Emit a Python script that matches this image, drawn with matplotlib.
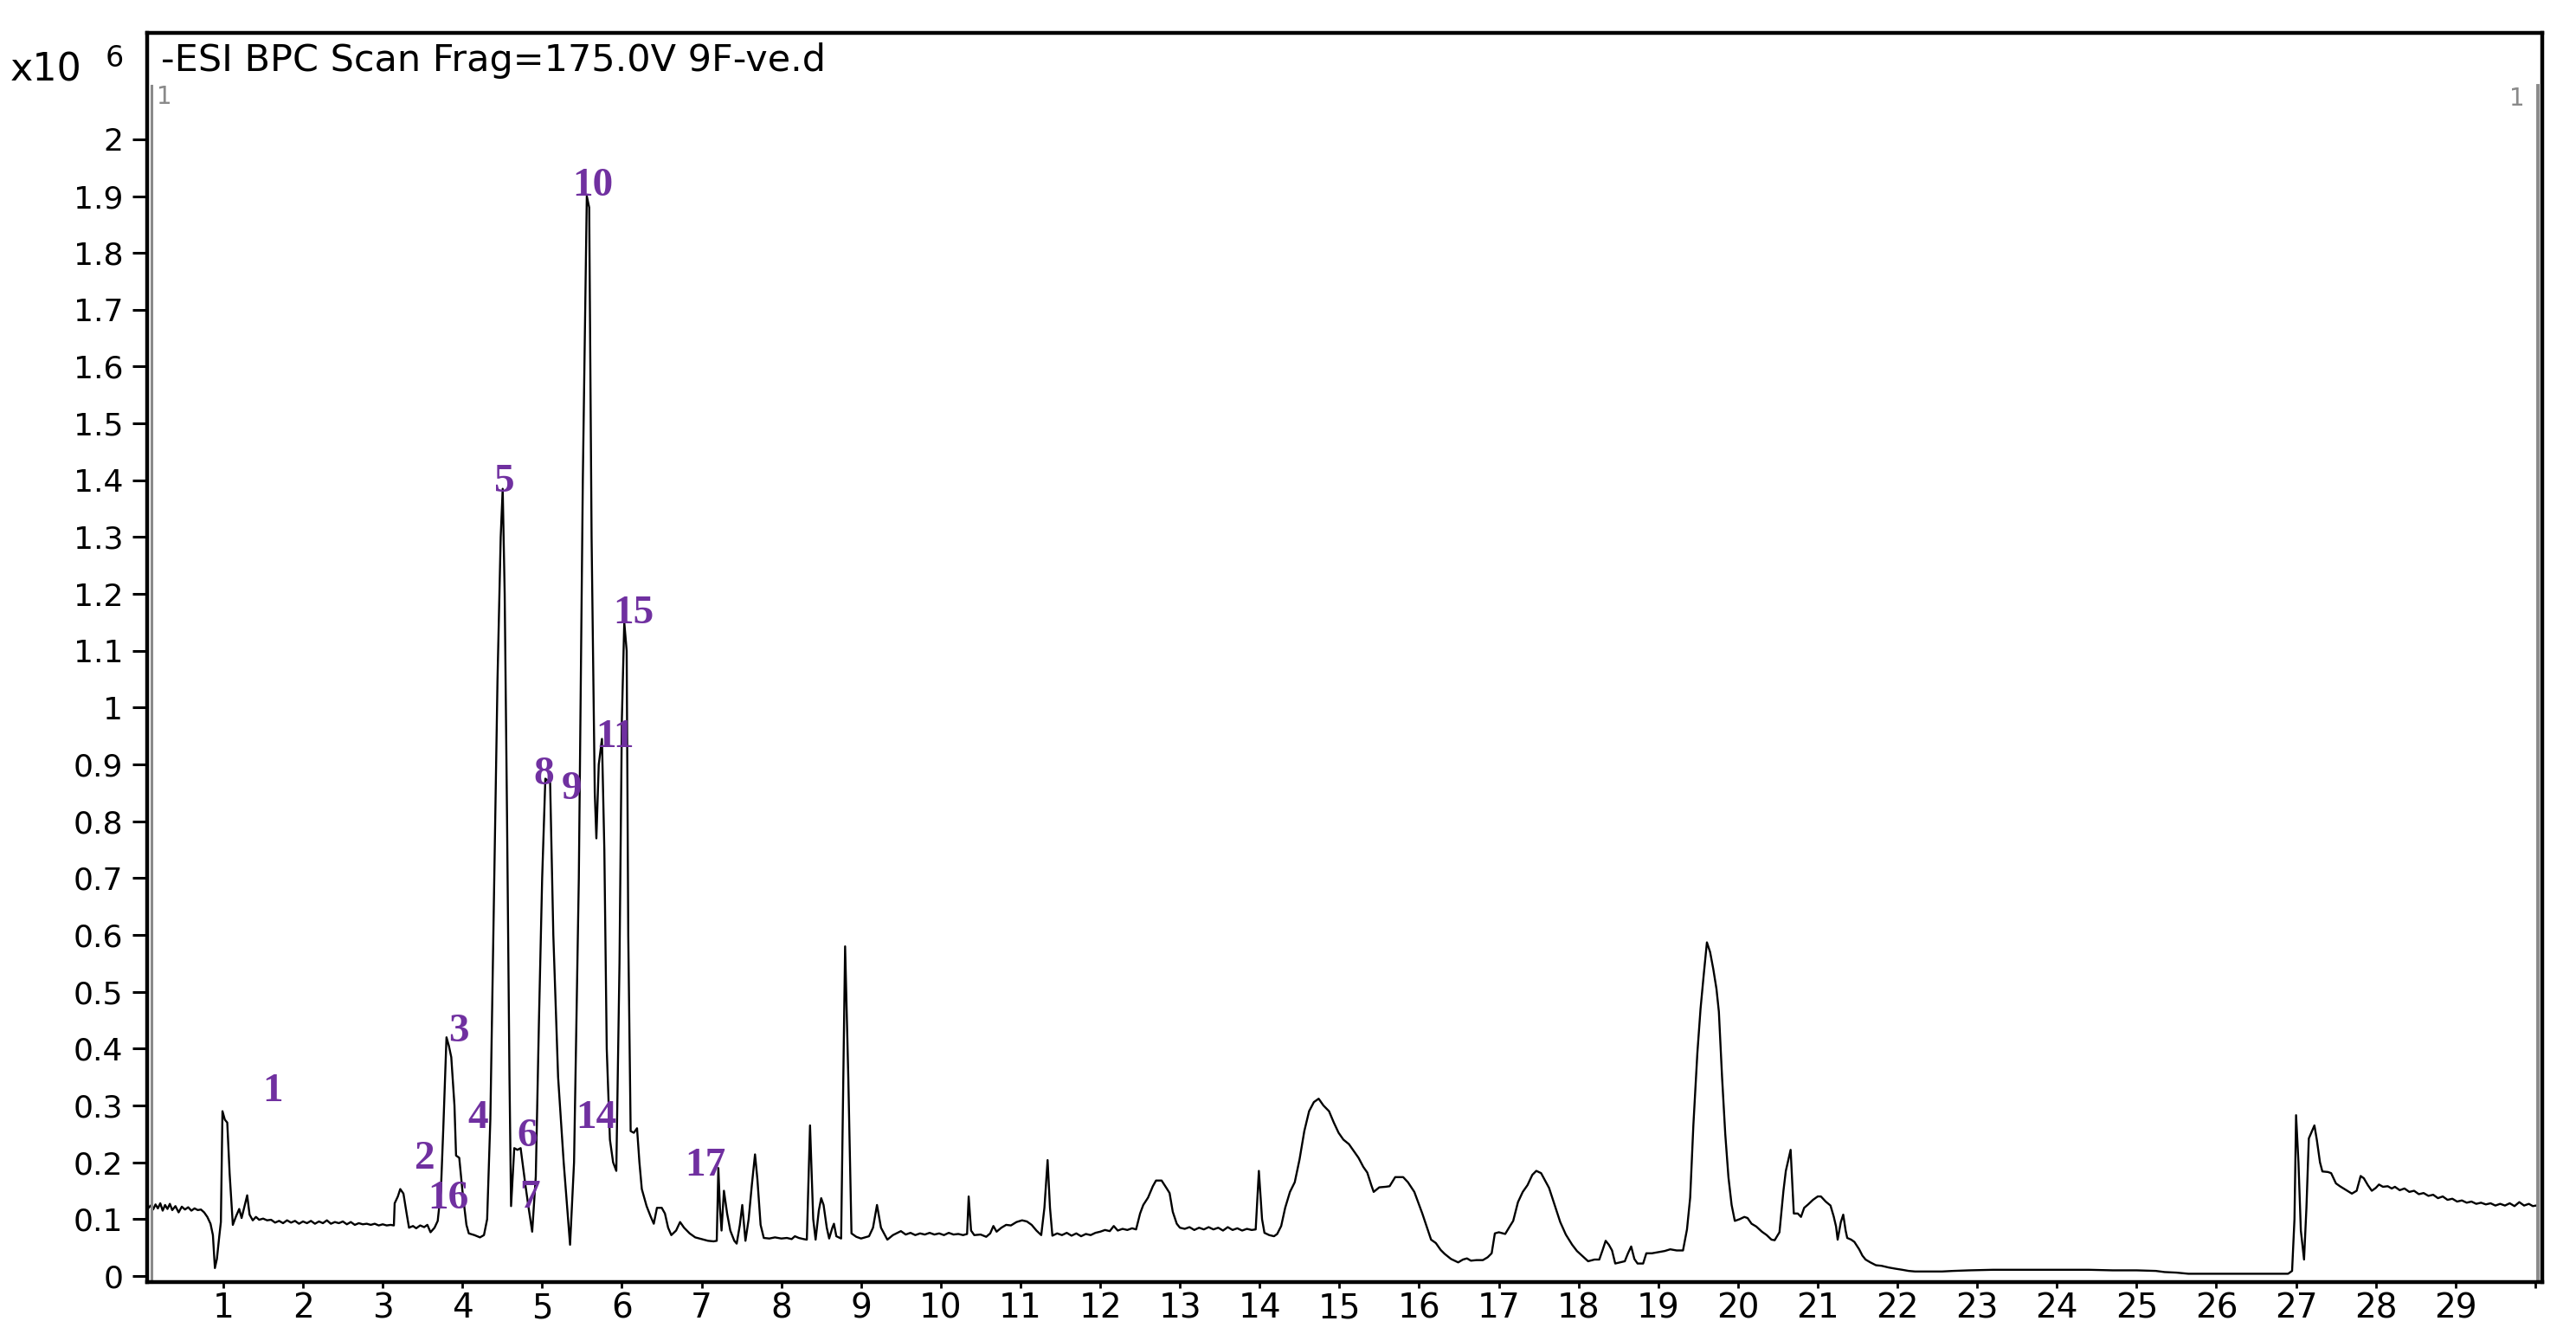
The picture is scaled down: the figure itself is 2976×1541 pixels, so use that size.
import matplotlib
matplotlib.use("Agg")
import matplotlib.pyplot as plt

# =========================
# BPC chromatogram (time in min, intensity in x10^6 counts)
rt = [
    0.05, 0.09, 0.12, 0.15, 0.18, 0.21, 0.24, 0.27, 0.30, 0.33,
    0.36, 0.40, 0.44, 0.48, 0.52, 0.56, 0.60, 0.64, 0.68, 0.72,
    0.76, 0.80, 0.84, 0.87, 0.895, 0.92, 0.95, 0.97, 0.99, 1.02,
    1.05, 1.08, 1.12, 1.16, 1.20, 1.23, 1.27, 1.30, 1.33, 1.37,
    1.41, 1.45, 1.50, 1.55, 1.60, 1.65, 1.70, 1.75, 1.80, 1.85,
    1.90, 1.95, 2.00, 2.05, 2.10, 2.15, 2.20, 2.25, 2.30, 2.35,
    2.40, 2.45, 2.50, 2.55, 2.60, 2.65, 2.70, 2.75, 2.80, 2.85,
    2.90, 2.95, 3.00, 3.05, 3.10, 3.14, 3.15, 3.19, 3.22, 3.26,
    3.30, 3.33, 3.38, 3.42, 3.47, 3.52, 3.56, 3.60, 3.65, 3.69,
    3.73, 3.76, 3.80, 3.83, 3.86, 3.90, 3.92, 3.96, 4.00, 4.05,
    4.08, 4.15, 4.22, 4.27, 4.31, 4.35, 4.40, 4.44, 4.48, 4.505,
    4.53, 4.56, 4.59, 4.61, 4.65, 4.69, 4.73, 4.79, 4.83, 4.875,
    4.92, 4.96, 5.00, 5.04, 5.10, 5.14, 5.20, 5.27, 5.35, 5.40,
    5.46, 5.51, 5.56, 5.59, 5.62, 5.66, 5.68, 5.71, 5.75, 5.78,
    5.81, 5.85, 5.89, 5.93, 5.97, 6.00, 6.03, 6.06, 6.08, 6.11,
    6.15, 6.19, 6.22, 6.25, 6.31, 6.36, 6.40, 6.44, 6.50, 6.54,
    6.58, 6.62, 6.68, 6.73, 6.78, 6.85, 6.92, 7.00, 7.08, 7.15,
    7.19, 7.21, 7.23, 7.25, 7.28, 7.32, 7.36, 7.41, 7.44, 7.48,
    7.51, 7.55, 7.59, 7.63, 7.67, 7.70, 7.74, 7.78, 7.85, 7.92,
    8.00, 8.07, 8.13, 8.17, 8.22, 8.28, 8.32, 8.36, 8.40, 8.43,
    8.47, 8.50, 8.53, 8.57, 8.60, 8.64, 8.66, 8.69, 8.75, 8.80,
    8.84, 8.88, 8.94, 9.00, 9.05, 9.10, 9.15, 9.20, 9.25, 9.33,
    9.40, 9.50, 9.56, 9.62, 9.68, 9.74, 9.80, 9.86, 9.92, 9.98,
    10.04, 10.10, 10.16, 10.22, 10.28, 10.33, 10.35, 10.38, 10.42, 10.50,
    10.57, 10.62, 10.66, 10.70, 10.76, 10.82, 10.88, 10.95, 11.02, 11.08,
    11.14, 11.20, 11.26, 11.30, 11.34, 11.37, 11.40, 11.46, 11.52, 11.58,
    11.64, 11.70, 11.76, 11.82, 11.88, 11.94, 12.00, 12.06, 12.12, 12.17,
    12.22, 12.28, 12.34, 12.40, 12.45, 12.50, 12.54, 12.60, 12.66, 12.70,
    12.77, 12.83, 12.87, 12.91, 12.96, 13.00, 13.06, 13.12, 13.18, 13.24,
    13.30, 13.36, 13.42, 13.48, 13.54, 13.60, 13.66, 13.72, 13.78, 13.84,
    13.90, 13.95, 13.99, 14.03, 14.06, 14.12, 14.18, 14.22, 14.27, 14.32,
    14.38, 14.44, 14.50, 14.56, 14.62, 14.68, 14.74, 14.80, 14.87, 14.93,
    14.99, 15.05, 15.12, 15.18, 15.24, 15.30, 15.35, 15.40, 15.43, 15.50,
    15.58, 15.63, 15.70, 15.80, 15.86, 15.94, 16.00, 16.04, 16.10, 16.15,
    16.21, 16.27, 16.32, 16.40, 16.49, 16.55, 16.60, 16.65, 16.72, 16.80,
    16.86, 16.91, 16.95, 17.00, 17.08, 17.14, 17.18, 17.24, 17.30, 17.36,
    17.42, 17.47, 17.53, 17.58, 17.63, 17.70, 17.77, 17.84, 17.92, 17.98,
    18.05, 18.12, 18.20, 18.26, 18.30, 18.34, 18.38, 18.42, 18.46, 18.52,
    18.58, 18.62, 18.66, 18.70, 18.74, 18.81, 18.85, 18.92, 19.00, 19.08,
    19.15, 19.23, 19.31, 19.36, 19.40, 19.44, 19.49, 19.53, 19.57, 19.61,
    19.65, 19.69, 19.73, 19.76, 19.80, 19.84, 19.88, 19.92, 19.96, 20.02,
    20.08, 20.12, 20.17, 20.23, 20.30, 20.36, 20.42, 20.46, 20.52, 20.57,
    20.60, 20.66, 20.70, 20.75, 20.79, 20.83, 20.88, 20.94, 21.00, 21.04,
    21.10, 21.16, 21.20, 21.23, 21.25, 21.29, 21.32, 21.35, 21.37, 21.42,
    21.46, 21.52, 21.56, 21.60, 21.66, 21.73, 21.80, 21.89, 21.97, 22.06,
    22.14, 22.22, 22.40, 22.56, 22.70, 22.90, 23.20, 23.50, 23.80, 24.10,
    24.40, 24.70, 25.00, 25.24, 25.35, 25.50, 25.65, 25.80, 26.00, 26.30,
    26.60, 26.90, 26.95, 26.98, 27.00, 27.03, 27.06, 27.10, 27.13, 27.16,
    27.23, 27.26, 27.30, 27.33, 27.40, 27.44, 27.50, 27.55, 27.62, 27.70,
    27.76, 27.81, 27.85, 27.90, 27.95, 28.00, 28.04, 28.09, 28.15, 28.20,
    28.24, 28.30, 28.36, 28.42, 28.48, 28.54, 28.60, 28.66, 28.72, 28.78,
    28.84, 28.90, 28.96, 29.02, 29.08, 29.14, 29.20, 29.26, 29.32, 29.38,
    29.44, 29.50, 29.56, 29.62, 29.68, 29.74, 29.80, 29.86, 29.92, 29.97,
    30.01,
]
bpc = [
    0.118, 0.124, 0.117, 0.126, 0.119, 0.128, 0.115, 0.125, 0.118, 0.127,
    0.116, 0.123, 0.112, 0.122, 0.117, 0.121, 0.115, 0.119, 0.116, 0.117,
    0.112, 0.104, 0.092, 0.072, 0.014, 0.030, 0.070, 0.095, 0.290, 0.275,
    0.270, 0.180, 0.090, 0.105, 0.118, 0.102, 0.125, 0.142, 0.108, 0.098,
    0.104, 0.099, 0.101, 0.098, 0.099, 0.094, 0.097, 0.093, 0.098, 0.094,
    0.097, 0.092, 0.096, 0.093, 0.097, 0.092, 0.096, 0.093, 0.098, 0.092,
    0.095, 0.093, 0.096, 0.091, 0.095, 0.090, 0.093, 0.091, 0.092, 0.090,
    0.092, 0.089, 0.091, 0.089, 0.090, 0.089, 0.128, 0.140, 0.153, 0.145,
    0.110, 0.085, 0.088, 0.084, 0.089, 0.086, 0.090, 0.077, 0.085, 0.097,
    0.150, 0.260, 0.420, 0.405, 0.385, 0.300, 0.212, 0.208, 0.150, 0.090,
    0.075, 0.072, 0.068, 0.072, 0.100, 0.275, 0.700, 1.050, 1.300, 1.385,
    1.200, 0.800, 0.350, 0.123, 0.225, 0.222, 0.225, 0.160, 0.120, 0.078,
    0.175, 0.450, 0.700, 0.875, 0.868, 0.600, 0.350, 0.200, 0.055, 0.200,
    0.700, 1.400, 1.900, 1.880, 1.300, 0.850, 0.770, 0.900, 0.945, 0.750,
    0.400, 0.240, 0.200, 0.185, 0.550, 0.980, 1.150, 1.100, 0.600, 0.255,
    0.252, 0.260, 0.200, 0.153, 0.123, 0.105, 0.092, 0.120, 0.120, 0.110,
    0.085, 0.072, 0.080, 0.095, 0.085, 0.075, 0.068, 0.065, 0.062, 0.061,
    0.062, 0.190, 0.120, 0.080, 0.150, 0.110, 0.080, 0.062, 0.057, 0.090,
    0.125, 0.062, 0.100, 0.160, 0.214, 0.170, 0.090, 0.067, 0.066, 0.068,
    0.066, 0.067, 0.065, 0.070, 0.067, 0.065, 0.064, 0.265, 0.100, 0.064,
    0.115, 0.137, 0.125, 0.085, 0.066, 0.085, 0.092, 0.070, 0.066, 0.580,
    0.350, 0.075, 0.069, 0.066, 0.068, 0.070, 0.085, 0.125, 0.085, 0.064,
    0.072, 0.079, 0.073, 0.076, 0.072, 0.075, 0.073, 0.076, 0.073, 0.075,
    0.072, 0.076, 0.073, 0.074, 0.072, 0.074, 0.140, 0.080, 0.072, 0.073,
    0.069, 0.075, 0.088, 0.078, 0.085, 0.090, 0.089, 0.095, 0.098, 0.096,
    0.090, 0.080, 0.072, 0.120, 0.204, 0.120, 0.071, 0.075, 0.072, 0.076,
    0.071, 0.075, 0.070, 0.074, 0.072, 0.076, 0.078, 0.081, 0.079, 0.088,
    0.080, 0.083, 0.081, 0.084, 0.082, 0.110, 0.125, 0.138, 0.158, 0.168,
    0.168, 0.155, 0.146, 0.113, 0.092, 0.085, 0.083, 0.086, 0.081, 0.085,
    0.082, 0.086, 0.082, 0.085, 0.080, 0.086, 0.081, 0.084, 0.080, 0.083,
    0.081, 0.082, 0.185, 0.100, 0.076, 0.072, 0.070, 0.074, 0.088, 0.120,
    0.148, 0.165, 0.205, 0.255, 0.290, 0.306, 0.312, 0.300, 0.290, 0.270,
    0.252, 0.240, 0.232, 0.220, 0.208, 0.192, 0.182, 0.160, 0.148, 0.156,
    0.157, 0.158, 0.174, 0.174, 0.165, 0.148, 0.125, 0.110, 0.085, 0.064,
    0.058, 0.046, 0.039, 0.030, 0.024, 0.029, 0.031, 0.027, 0.028, 0.028,
    0.033, 0.040, 0.075, 0.077, 0.074, 0.088, 0.097, 0.130, 0.148, 0.160,
    0.178, 0.185, 0.181, 0.168, 0.155, 0.125, 0.095, 0.073, 0.055, 0.044,
    0.035, 0.026, 0.029, 0.029, 0.045, 0.062, 0.055, 0.045, 0.022, 0.024,
    0.026, 0.040, 0.052, 0.030, 0.022, 0.022, 0.040, 0.040, 0.042, 0.044,
    0.047, 0.045, 0.045, 0.082, 0.138, 0.265, 0.392, 0.470, 0.530, 0.587,
    0.570, 0.540, 0.505, 0.465, 0.350, 0.250, 0.174, 0.125, 0.097, 0.100,
    0.104, 0.102, 0.092, 0.087, 0.078, 0.072, 0.064, 0.063, 0.077, 0.150,
    0.185, 0.222, 0.110, 0.110, 0.104, 0.120, 0.126, 0.134, 0.140, 0.140,
    0.131, 0.124, 0.105, 0.087, 0.064, 0.095, 0.108, 0.080, 0.067, 0.064,
    0.060, 0.047, 0.036, 0.029, 0.024, 0.019, 0.018, 0.015, 0.013, 0.011,
    0.009, 0.008, 0.008, 0.008, 0.009, 0.010, 0.011, 0.011, 0.011, 0.011,
    0.011, 0.010, 0.010, 0.009, 0.007, 0.006, 0.004, 0.004, 0.004, 0.004,
    0.004, 0.004, 0.009, 0.100, 0.283, 0.200, 0.080, 0.029, 0.120, 0.242,
    0.265, 0.240, 0.200, 0.184, 0.183, 0.181, 0.163, 0.158, 0.152, 0.145,
    0.150, 0.176, 0.172, 0.160, 0.150, 0.155, 0.161, 0.157, 0.158, 0.154,
    0.157, 0.151, 0.154, 0.148, 0.150, 0.144, 0.146, 0.141, 0.143, 0.137,
    0.140, 0.134, 0.136, 0.131, 0.133, 0.129, 0.131, 0.127, 0.129, 0.126,
    0.128, 0.124, 0.127, 0.124, 0.128, 0.123, 0.130, 0.124, 0.127, 0.123,
    0.124,
]

# 峰编号标注
peak_ids = ["1", "2", "3", "4", "5", "6", "7", "8", "9", "10",
            "11", "14", "15", "16", "17"]
peak_x = [1.62, 3.53, 3.95, 4.20, 4.53, 4.81, 4.85, 5.02, 5.37, 5.64,
          5.91, 5.68, 6.15, 3.82, 7.05]
peak_y = [0.324, 0.205, 0.430, 0.277, 1.396, 0.245, 0.137, 0.882, 0.856, 1.917,
          0.948, 0.277, 1.165, 0.135, 0.193]

x_ticks = list(range(1, 31))
x_tick_labels = [str(v) for v in range(1, 30)] + [""]
y_ticks = [0, 0.1, 0.2, 0.3, 0.4, 0.5, 0.6, 0.7, 0.8, 0.9, 1,
           1.1, 1.2, 1.3, 1.4, 1.5, 1.6, 1.7, 1.8, 1.9, 2]
y_tick_labels = ["0", "0.1", "0.2", "0.3", "0.4", "0.5", "0.6", "0.7", "0.8", "0.9", "1",
                 "1.1", "1.2", "1.3", "1.4", "1.5", "1.6", "1.7", "1.8", "1.9", "2"]

title_text = "-ESI BPC Scan Frag=175.0V 9F-ve.d"

# =========================
# 绘图
plt.rcParams["font.family"] = ["DejaVu Sans"]

fig = plt.figure(figsize=(29.76, 15.41), dpi=100)
ax = fig.add_axes([0.0571, 0.0389, 0.9298, 0.9364])

ax.plot(rt, bpc, color="black", lw=1.7)

ax.set_xlim(0.0445, 30.088)
ax.set_ylim(-0.0107, 2.187)

ax.set_xticks(x_ticks)
ax.set_xticklabels(x_tick_labels, fontsize=28)
ax.set_yticks(y_ticks)
ax.set_yticklabels(y_tick_labels, fontsize=26)
ax.tick_params(axis="y", length=12, width=2.2, pad=8, color="black")
ax.tick_params(axis="x", length=5, width=2, pad=3, color="black")

for sp in ax.spines.values():
    sp.set_linewidth(3.2)

# 仪器软件的光标标记
ax.plot([0.0017, 0.0017], [0, 0.958], transform=ax.transAxes, color="#8a8a8a", lw=2.2, clip_on=False)
ax.plot([0.9982, 0.9982], [0, 0.958], transform=ax.transAxes, color="#8a8a8a", lw=2.8, clip_on=False)
fig.text(0.0638, 0.927, "1", color="#8a8a8a", fontsize=20, ha="center", va="center")
fig.text(0.9772, 0.926, "1", color="#8a8a8a", fontsize=20, ha="center", va="center")

fig.text(0.0625, 0.9545, title_text, fontsize=31, ha="left", va="center")
fig.text(0.004, 0.9475, "x10", fontsize=32, ha="left", va="center")
fig.text(0.0410, 0.9565, "6", fontsize=24, ha="left", va="center")

for lab, px, py in zip(peak_ids, peak_x, peak_y):
    ax.text(px, py, lab, color="#7030a0", fontsize=34, fontweight="bold",
            family=["Liberation Serif", "DejaVu Serif"], ha="center", va="center")

fig.savefig("out.png", dpi=100)
